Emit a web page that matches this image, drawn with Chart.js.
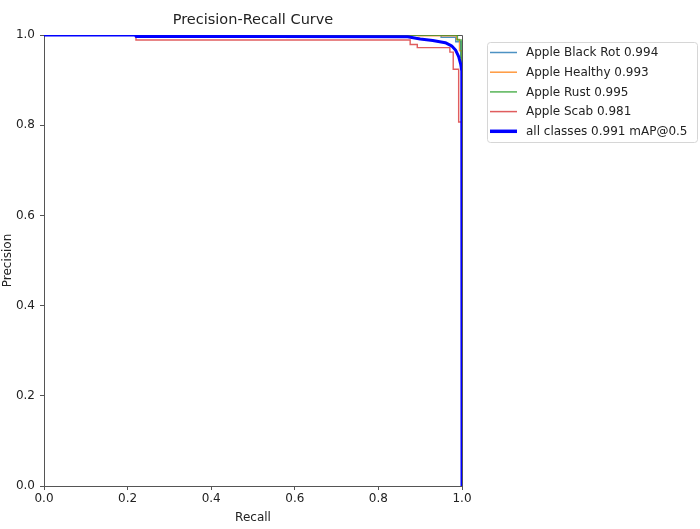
<!DOCTYPE html>
<html>
<head>
<meta charset="utf-8">
<script src="https://cdn.jsdelivr.net/npm/chart.js@4.4.1/dist/chart.umd.min.js"></script>
<style>
  html, body { margin: 0; padding: 0; background: #fff; }
  #wrap { width: 700px; height: 529px; }
</style>
</head>
<body>
<div id="wrap"><canvas id="prChart" width="700" height="529"></canvas></div>
<script>
// nama kelas dan nilai AP dari legenda
const classNames = ["Apple Black Rot", "Apple Healthy", "Apple Rust", "Apple Scab"];
const classAP = [0.994, 0.993, 0.995, 0.981];
const meanAP = 0.991;

// titik kurva (recall, precision)
const recallBlackRot = [0, 0.95, 0.985, 0.997, 1.0];
const precisionBlackRot = [1.0, 0.995, 0.985, 0.95, 0.0];

const recallHealthy = [0, 0.895, 0.987, 0.994, 1.0];
const precisionHealthy = [1.0, 0.998, 0.99, 0.965, 0.0];

const recallRust = [0, 0.989, 0.998, 1.0];
const precisionRust = [1.0, 0.989, 0.93, 0.0];

const recallScab = [0, 0.22, 0.876, 0.893, 0.971, 0.979, 0.992, 1.0];
const precisionScab = [1.0, 0.989, 0.979, 0.972, 0.962, 0.924, 0.807, 0.0];

const recallAll = [0, 0.219, 0.22, 0.87, 0.90, 0.93, 0.96, 0.975, 0.985, 0.992, 0.997, 0.9995, 1.0];
const precisionAll = [1.0, 1.0, 0.997, 0.996, 0.991, 0.988, 0.983, 0.976, 0.966, 0.952, 0.935, 0.92, 0.0];

const tickValues = [0, 0.2, 0.4, 0.6, 0.8, 1.0];

const classColors = [
  "rgba(31,119,180,0.8)",
  "rgba(255,127,14,0.8)",
  "rgba(44,160,44,0.8)",
  "rgba(214,39,40,0.75)"
];

function pasangkan(xs, ys) {
  return xs.map((x, i) => ({ x: x, y: ys[i] }));
}

const classRecall = [recallBlackRot, recallHealthy, recallRust, recallScab];
const classPrecision = [precisionBlackRot, precisionHealthy, precisionRust, precisionScab];

const datasets = classNames.map((name, i) => ({
  label: name + " " + classAP[i].toFixed(3),
  data: pasangkan(classRecall[i], classPrecision[i]),
  borderColor: classColors[i],
  borderWidth: 1.4,
  stepped: "before",
  pointRadius: 0,
  order: 4 - i
}));

datasets.push({
  label: "all classes " + meanAP.toFixed(3) + " mAP@0.5",
  data: pasangkan(recallAll, precisionAll),
  borderColor: "#0000ff",
  borderWidth: 3,
  borderJoinStyle: "round",
  pointRadius: 0,
  order: 0
});

const fontFamily = "'DejaVu Sans', sans-serif";
const axisColor = "#555";
const textColor = "#222";

// bingkai atas dan kanan seperti matplotlib
const framePlugin = {
  id: "frame",
  beforeDatasetsDraw(chart) {
    const { ctx, chartArea: a } = chart;
    ctx.save();
    ctx.strokeStyle = axisColor;
    ctx.lineWidth = 1;
    ctx.beginPath();
    ctx.moveTo(a.left, a.top + 0.5);
    ctx.lineTo(a.right + 0.5, a.top + 0.5);
    ctx.lineTo(a.right + 0.5, a.bottom);
    ctx.stroke();
    ctx.restore();
  }
};

// legenda di luar area plot, kanan atas
const legendPlugin = {
  id: "sideLegend",
  afterDraw(chart) {
    const ctx = chart.ctx;
    const x = 487, y = 42, w = 210, h = 100;
    ctx.save();
    ctx.fillStyle = "rgba(255,255,255,0.8)";
    ctx.strokeStyle = "#d6d6d6";
    ctx.lineWidth = 1;
    ctx.beginPath();
    ctx.roundRect(x + 0.5, y + 0.5, w, h, 3);
    ctx.fill();
    ctx.stroke();
    ctx.font = "12px " + fontFamily;
    ctx.textBaseline = "middle";
    chart.data.datasets.forEach((ds, i) => {
      const cy = 52.5 + i * 19.7;
      ctx.strokeStyle = ds.borderColor;
      ctx.lineWidth = ds.borderWidth === 3 ? 3.5 : 1.5;
      ctx.beginPath();
      ctx.moveTo(490, cy);
      ctx.lineTo(517, cy);
      ctx.stroke();
      ctx.fillStyle = textColor;
      ctx.fillText(ds.label, 526, cy + 0.5);
    });
    ctx.restore();
  }
};

const ctx = document.getElementById("prChart").getContext("2d");
new Chart(ctx, {
  type: "line",
  data: { datasets: datasets },
  plugins: [framePlugin, legendPlugin],
  options: {
    responsive: false,
    animation: false,
    layout: { padding: { left: 0, right: 238, top: 0, bottom: 0 } },
    scales: {
      x: {
        type: "linear",
        min: 0,
        max: 1,
        afterBuildTicks: s => { s.ticks = tickValues.map(v => ({ value: v })); },
        afterFit: s => { s.height = 43; },
        ticks: {
          padding: 2,
          color: textColor,
          font: { family: fontFamily, size: 12 },
          callback: v => v.toFixed(1)
        },
        grid: { drawOnChartArea: false, drawTicks: true, tickLength: 4, color: axisColor },
        border: { color: axisColor },
        title: {
          display: true,
          text: "Recall",
          color: textColor,
          font: { family: fontFamily, size: 12 },
          padding: { top: 0, bottom: 4 }
        }
      },
      y: {
        type: "linear",
        min: 0,
        max: 1,
        afterBuildTicks: s => { s.ticks = tickValues.map(v => ({ value: v })); },
        afterFit: s => { s.width = 44; },
        ticks: {
          padding: 5,
          color: textColor,
          font: { family: fontFamily, size: 12 },
          callback: v => v.toFixed(1)
        },
        grid: { drawOnChartArea: false, drawTicks: true, tickLength: 4, color: axisColor },
        border: { color: axisColor },
        title: {
          display: true,
          text: "Precision",
          color: textColor,
          font: { family: fontFamily, size: 12 },
          padding: { top: 1, bottom: 0 }
        }
      }
    },
    plugins: {
      legend: { display: false },
      tooltip: { enabled: false },
      title: {
        display: true,
        text: "Precision-Recall Curve",
        fullSize: false,
        color: textColor,
        font: { family: fontFamily, size: 14.5, weight: "normal" },
        padding: { top: 12, bottom: 5.6 }
      }
    }
  }
});
</script>
</body>
</html>
